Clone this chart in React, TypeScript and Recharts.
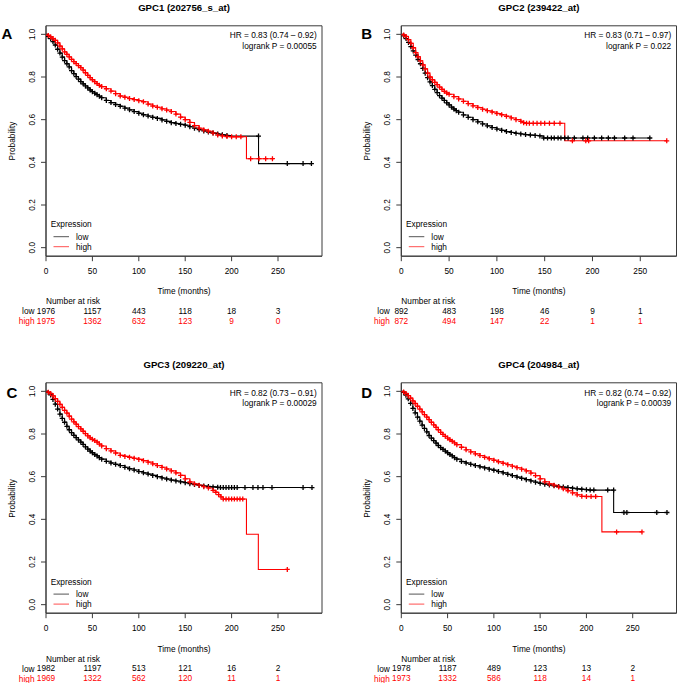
import React from 'react';
import { LineChart, Line, XAxis, YAxis, ReferenceArea } from 'recharts';

type Pt = [number, number, number?];

const timeTicks = [0, 50, 100, 150, 200, 250];
const probTicks = [0, 0.2, 0.4, 0.6, 0.8, 1.0];

// [time, survival, censorMark(default 1)]
const gpc1Low: Pt[] = [[0,1,0],[2.5,0.99],[5,0.98],[7.5,0.966],[10,0.95],[12.5,0.93],[15,0.912],[17.5,0.893],[20,0.877],[22.5,0.862],[25,0.847],[27.5,0.83],[30,0.816],[32.5,0.802],[35,0.79],[37.5,0.778],[40,0.768],[42.5,0.758],[45,0.749],[47.5,0.739],[50,0.731],[52.5,0.724],[55,0.717],[57.5,0.71],[60,0.703],[65,0.69],[70,0.68],[75,0.671],[80,0.663],[85,0.654],[90,0.646],[95,0.638],[100,0.63],[105,0.623],[110,0.617],[115,0.611],[120,0.606],[125,0.599],[130,0.592],[135,0.586],[140,0.582],[145,0.578],[150,0.574],[155,0.567],[160,0.56],[165,0.553],[170,0.547],[175,0.542],[180,0.537],[185,0.533],[190,0.529],[195,0.526],[200,0.523,0],[229,0.523],[229,0.394,0],[260,0.394],[277,0.394],[286,0.394]];
const gpc1High: Pt[] = [[0,1,0],[2.5,0.995],[5,0.988],[7.5,0.98],[10,0.972],[12.5,0.96],[15,0.945],[17.5,0.932],[20,0.918],[22.5,0.906],[25,0.894],[27.5,0.883],[30,0.872],[32.5,0.863],[35,0.853],[37.5,0.844],[40,0.832],[42.5,0.82],[45,0.808],[47.5,0.797],[50,0.787],[52.5,0.778],[55,0.769],[57.5,0.761],[60,0.755],[65,0.745],[70,0.734],[75,0.722],[80,0.711],[85,0.705],[90,0.699],[95,0.694],[100,0.689],[105,0.684],[110,0.673],[115,0.664],[120,0.658],[125,0.651],[130,0.645],[135,0.638],[140,0.626],[145,0.612],[150,0.6],[155,0.587],[160,0.572],[165,0.56],[170,0.552],[175,0.546],[180,0.537],[185,0.528],[190,0.524],[195,0.521],[200,0.52],[205,0.52],[210,0.52],[216,0.52,0],[216,0.417,0],[220.5,0.417],[229.5,0.417],[236.7,0.417],[244,0.417],[245.5,0.417,0]];

const gpc2Low: Pt[] = [[0,1,0],[2.5,0.993],[5,0.98],[7.5,0.962],[10,0.942],[12.5,0.922],[15,0.903],[17.5,0.882],[20,0.862],[22.5,0.84],[25,0.818],[27.5,0.797],[30,0.777],[32.5,0.76],[35,0.742],[37.5,0.727],[40,0.713],[42.5,0.701],[45,0.69],[47.5,0.679],[50,0.669],[52.5,0.659],[55,0.65],[57.5,0.642],[60,0.635],[65,0.622],[70,0.611],[75,0.6],[80,0.59],[85,0.58],[90,0.571],[95,0.563],[100,0.556],[105,0.55],[110,0.544],[115,0.54],[120,0.536],[125,0.533],[130,0.53],[135,0.528],[140,0.526],[145,0.524],[148,0.523,0],[149,0.514],[153,0.514],[157,0.514],[160,0.514],[164,0.514],[167,0.514],[171,0.514],[174.5,0.514],[181,0.514],[190,0.514],[195,0.514],[202,0.514],[209.6,0.514],[216.6,0.514],[223,0.514],[233.7,0.514],[242.4,0.514],[260,0.514]];
const gpc2High: Pt[] = [[0,1,0],[2.5,0.997],[5,0.99],[7.5,0.975],[10,0.958],[12.5,0.937],[15,0.914],[17.5,0.895],[20,0.876],[22.5,0.857],[25,0.838],[27.5,0.818],[30,0.8],[32.5,0.787],[35,0.775],[37.5,0.764],[40,0.753],[42.5,0.742],[45,0.733],[47.5,0.725],[50,0.719],[55,0.708],[60,0.697],[65,0.686],[70,0.675],[75,0.665],[80,0.657],[85,0.649],[90,0.642],[95,0.636],[100,0.629],[105,0.623],[110,0.616],[115,0.608],[120,0.6],[125,0.592],[128,0.586],[131,0.583],[134,0.583],[138,0.583],[142,0.583],[146,0.583],[150,0.583],[155,0.583],[160,0.583],[166,0.583],[171,0.583,0],[171,0.501,0],[179,0.501],[193,0.501],[196,0.501],[277.7,0.501]];

const gpc3Low: Pt[] = [[0,1,0],[2.5,0.995],[5,0.983],[7.5,0.962],[10,0.94],[12.5,0.917],[15,0.893],[17.5,0.873],[20,0.855],[22.5,0.836],[25,0.82],[27.5,0.806],[30,0.794],[32.5,0.783],[35,0.772],[37.5,0.762],[40,0.751],[42.5,0.74],[45,0.729],[47.5,0.72],[50,0.712],[52.5,0.704],[55,0.697],[57.5,0.689],[60,0.682],[65,0.672],[70,0.664],[75,0.658],[80,0.652],[85,0.644],[90,0.637],[95,0.631],[100,0.624],[105,0.618],[110,0.612],[115,0.606],[120,0.6],[125,0.594],[130,0.589],[135,0.584],[140,0.58],[145,0.576],[150,0.572],[155,0.567],[160,0.563],[165,0.559],[170,0.556],[175,0.554],[180,0.552],[185,0.55],[188,0.549],[191,0.549],[194,0.549],[197,0.549],[200,0.549],[203,0.549],[206,0.549],[214.4,0.549],[223,0.549],[228.4,0.549],[233.8,0.549],[243.5,0.549],[277,0.549],[286.6,0.549]];
const gpc3High: Pt[] = [[0,1,0],[2.5,0.996],[5,0.99],[7.5,0.979],[10,0.966],[12.5,0.953],[15,0.939],[17.5,0.925],[20,0.911],[22.5,0.898],[25,0.884],[27.5,0.87],[30,0.857],[32.5,0.846],[35,0.835],[37.5,0.824],[40,0.813],[42.5,0.802],[45,0.791],[47.5,0.782],[50,0.775],[52.5,0.769],[55,0.762],[57.5,0.753],[60,0.744],[65,0.731],[70,0.721],[75,0.711],[80,0.7],[85,0.695],[90,0.691],[95,0.686],[100,0.681],[105,0.675],[110,0.668],[115,0.66],[120,0.652],[125,0.644],[130,0.636],[135,0.627],[140,0.618],[145,0.606],[150,0.59],[155,0.575],[160,0.566],[165,0.56],[170,0.553],[175,0.547],[180,0.536],[183,0.527],[186,0.516],[188.5,0.505],[191,0.495],[194,0.495],[197,0.495],[200,0.495],[203,0.495],[206,0.495],[209,0.495],[212,0.495],[216,0.495,0],[216,0.33,0],[228.8,0.33,0],[228.8,0.165,0],[260,0.165]];

const gpc4Low: Pt[] = [[0,1,0],[2.5,0.995],[5,0.982],[7.5,0.965],[10,0.944],[12.5,0.92],[15,0.899],[17.5,0.879],[20,0.86],[22.5,0.842],[25,0.826],[27.5,0.81],[30,0.793],[32.5,0.781],[35,0.769],[37.5,0.757],[40,0.746],[42.5,0.736],[45,0.728],[47.5,0.72],[50,0.712],[52.5,0.704],[55,0.697],[57.5,0.689],[60,0.682],[65,0.671],[70,0.664],[75,0.658],[80,0.652],[85,0.646],[90,0.641],[95,0.635],[100,0.63],[105,0.624],[110,0.618],[115,0.611],[120,0.605],[125,0.598],[130,0.592],[135,0.586],[140,0.58],[145,0.574],[150,0.569],[155,0.565],[160,0.561],[165,0.557],[170,0.554],[175,0.551],[180,0.549],[185,0.546],[190,0.543],[195,0.541],[200,0.539],[204,0.537],[208,0.537],[223,0.537],[229.4,0.537],[229.4,0.432,0],[240.5,0.432],[243.7,0.432],[276,0.432],[287,0.432]];
const gpc4High: Pt[] = [[0,1,0],[2.5,0.997],[5,0.99],[7.5,0.98],[10,0.968],[12.5,0.955],[15,0.943],[17.5,0.93],[20,0.917],[22.5,0.904],[25,0.891],[27.5,0.879],[30,0.867],[32.5,0.855],[35,0.843],[37.5,0.831],[40,0.82],[42.5,0.808],[45,0.798],[47.5,0.789],[50,0.781],[52.5,0.773],[55,0.766],[57.5,0.758],[60,0.75],[65,0.738],[70,0.726],[75,0.716],[80,0.707],[85,0.699],[90,0.691],[95,0.684],[100,0.677],[105,0.67],[110,0.663],[115,0.656],[120,0.649],[125,0.642],[130,0.635],[135,0.627],[140,0.617],[145,0.605],[150,0.59],[155,0.576],[160,0.566],[165,0.56],[170,0.551],[175,0.543],[180,0.534],[185,0.524],[190,0.515],[195,0.508],[200,0.507],[205,0.507],[210,0.507],[216.7,0.507,0],[216.7,0.341,0],[232.6,0.341],[260,0.341]];

const gpc1RiskLow = [1976, 1157, 443, 118, 18, 3];
const gpc1RiskHigh = [1975, 1362, 632, 123, 9, 0];
const gpc2RiskLow = [892, 483, 198, 46, 9, 1];
const gpc2RiskHigh = [872, 494, 147, 22, 1, 1];
const gpc3RiskLow = [1982, 1197, 513, 121, 16, 2];
const gpc3RiskHigh = [1969, 1322, 562, 120, 11, 1];
const gpc4RiskLow = [1978, 1187, 489, 123, 13, 2];
const gpc4RiskHigh = [1973, 1332, 586, 118, 14, 1];

const titles = ['GPC1 (202756_s_at)', 'GPC2 (239422_at)', 'GPC3 (209220_at)', 'GPC4 (204984_at)'];
const hrTexts = ['HR = 0.83 (0.74 \u2013 0.92)', 'HR = 0.83 (0.71 \u2013 0.97)', 'HR = 0.82 (0.73 \u2013 0.91)', 'HR = 0.82 (0.74 \u2013 0.92)'];
const pTexts = ['logrank P = 0.00055', 'logrank P = 0.022', 'logrank P = 0.00029', 'logrank P = 0.00039'];
const letters = ['A', 'B', 'C', 'D'];

const FONT = '"Liberation Sans", Arial, Helvetica, sans-serif';
const RED = '#ff0000';
const AX = '#3a3a3a';
const PLOT_TOP = 25.8;
const PLOT_H = 230.4;
const CHART_H = 340;
const PLOT_BOTTOM = PLOT_TOP + PLOT_H;
const FS = 8.3;

const toRows = (pts: Pt[]) => pts.map(([t, s, c]) => ({ t, s, c: c === undefined ? 1 : c }));

interface Spec {
  left: number; top: number; width: number; plotLeft: number; plotW: number; xMax: number;
  letterX: number; letterY: number; idx: number;
  low: Pt[]; high: Pt[]; riskLow: number[]; riskHigh: number[];
}

const specs: Spec[] = [
  { left: 0, top: 0, width: 338, plotLeft: 46, plotW: 276, xMax: 297.4, letterX: 1.5, letterY: 39.3, idx: 0, low: gpc1Low, high: gpc1High, riskLow: gpc1RiskLow, riskHigh: gpc1RiskHigh },
  { left: 338, top: 0, width: 339, plotLeft: 63.3, plotW: 275.2, xMax: 287.9, letterX: 23.3, letterY: 39.3, idx: 1, low: gpc2Low, high: gpc2High, riskLow: gpc2RiskLow, riskHigh: gpc2RiskHigh },
  { left: 0, top: 357.4, width: 338, plotLeft: 46, plotW: 276, xMax: 297.4, letterX: 6.5, letterY: 40.8, idx: 2, low: gpc3Low, high: gpc3High, riskLow: gpc3RiskLow, riskHigh: gpc3RiskHigh },
  { left: 338, top: 357.4, width: 339, plotLeft: 63.3, plotW: 275.2, xMax: 297.3, letterX: 23.3, letterY: 40.8, idx: 3, low: gpc4Low, high: gpc4High, riskLow: gpc4RiskLow, riskHigh: gpc4RiskHigh },
];

const plusDot = (color: string) => (p: any) => {
  const { cx, cy, payload, index } = p;
  if (!payload || !payload.c || cx == null || cy == null) return <g key={`n${index}`} />;
  const a = 2.5;
  return (
    <path key={`p${index}`} d={`M${cx - a},${cy}H${cx + a}M${cx},${cy - a}V${cy + a}`} stroke={color} strokeWidth={1.3} fill="none" />
  );
};

function Panel({ spec }: { spec: Spec }) {
  const XTick = (props: any) => {
    const { x, payload } = props;
    const i = timeTicks.indexOf(payload.value);
    return (
      <g>
        <text x={x} y={PLOT_BOTTOM + 18.2} textAnchor="middle" fontSize={FS} fontFamily={FONT} fill="#000">{payload.value}</text>
        <text x={x} y={PLOT_BOTTOM + 58.2} textAnchor="middle" fontSize={FS} fontFamily={FONT} fill="#000">{spec.riskLow[i]}</text>
        <text x={x} y={PLOT_BOTTOM + 68.2} textAnchor="middle" fontSize={FS} fontFamily={FONT} fill={RED}>{spec.riskHigh[i]}</text>
      </g>
    );
  };
  const YTick = (props: any) => {
    const { y, payload } = props;
    return (
      <text transform={`translate(${spec.plotLeft - 11},${y}) rotate(-90)`} textAnchor="middle" fontSize={FS} fontFamily={FONT} fill="#000">
        {Number(payload.value).toFixed(1)}
      </text>
    );
  };
  return (
    <div style={{ position: 'absolute', left: spec.left, top: spec.top }}>
      <LineChart
        width={spec.width}
        height={CHART_H}
        margin={{ top: PLOT_TOP, right: spec.width - spec.plotLeft - spec.plotW, left: 0, bottom: 0 }}
      >
        <XAxis
          type="number"
          dataKey="t"
          domain={[0, spec.xMax]}
          ticks={timeTicks}
          interval={0}
          height={CHART_H - PLOT_TOP - PLOT_H}
          tick={XTick}
          tickSize={5}
          tickLine={{ stroke: AX }}
          axisLine={{ stroke: AX }}
          allowDataOverflow
        />
        <YAxis
          type="number"
          domain={[-0.04, 1.04]}
          ticks={probTicks}
          interval={0}
          width={spec.plotLeft}
          tick={YTick}
          tickSize={5}
          tickLine={{ stroke: AX }}
          axisLine={{ stroke: AX }}
          allowDataOverflow
        />
        <ReferenceArea x1={0} x2={spec.xMax} y1={-0.04} y2={1.04} fill="none" fillOpacity={0} stroke={AX} strokeWidth={1} ifOverflow="visible" />
        <Line data={toRows(spec.low)} dataKey="s" type="stepAfter" stroke="#000" strokeWidth={1.1} dot={plusDot('#000')} activeDot={false} isAnimationActive={false} />
        <Line data={toRows(spec.high)} dataKey="s" type="stepAfter" stroke={RED} strokeWidth={1.1} dot={plusDot(RED)} activeDot={false} isAnimationActive={false} />
      </LineChart>
    </div>
  );
}

function Overlay({ spec }: { spec: Spec }) {
  const cx = spec.plotLeft + spec.plotW / 2;
  const pl = spec.plotLeft;
  const t = { fontFamily: FONT, fontSize: FS, fill: '#000' } as any;
  return (
    <g transform={`translate(${spec.left},${spec.top})`}>
      <text x={cx} y={10.5} textAnchor="middle" fontFamily={FONT} fontSize={9.6} fontWeight="bold" fill="#000">{titles[spec.idx]}</text>
      <text x={spec.letterX} y={spec.letterY} fontFamily={FONT} fontSize={15} fontWeight="bold" fill="#000">{letters[spec.idx]}</text>
      <text x={pl + spec.plotW - 5.3} y={38.3} textAnchor="end" {...t}>{hrTexts[spec.idx]}</text>
      <text x={pl + spec.plotW - 5.3} y={48.6} textAnchor="end" {...t}>{pTexts[spec.idx]}</text>
      <text transform={`translate(${pl - 31.5},${PLOT_TOP + PLOT_H / 2}) rotate(-90)`} textAnchor="middle" {...t}>Probability</text>
      <text x={cx} y={PLOT_BOTTOM + 38.2} textAnchor="middle" {...t}>Time (months)</text>
      <text x={pl} y={PLOT_BOTTOM + 48.2} textAnchor="start" {...t}>Number at risk</text>
      <text x={pl - 11.5} y={PLOT_BOTTOM + 58.2} textAnchor="end" {...t}>low</text>
      <text x={pl - 11.5} y={PLOT_BOTTOM + 68.2} textAnchor="end" {...t} fill={RED}>high</text>
      <text x={pl + 4.7} y={PLOT_BOTTOM - 28.8} {...t}>Expression</text>
      <line x1={pl + 7.5} x2={pl + 23} y1={PLOT_BOTTOM - 19.5} y2={PLOT_BOTTOM - 19.5} stroke="#555" strokeWidth={1} />
      <text x={pl + 30} y={PLOT_BOTTOM - 16.7} {...t}>low</text>
      <line x1={pl + 7.5} x2={pl + 23} y1={PLOT_BOTTOM - 9.5} y2={PLOT_BOTTOM - 9.5} stroke="#ff5050" strokeWidth={1} />
      <text x={pl + 30} y={PLOT_BOTTOM - 6.7} {...t}>high</text>
    </g>
  );
}

export default function App() {
  return (
    <div style={{ position: 'absolute', left: 0, top: 0, width: 677, height: 683, overflow: 'hidden', background: '#fff' }}>
      {specs.map((s) => <Panel key={s.idx} spec={s} />)}
      <svg width={677} height={683} style={{ position: 'absolute', left: 0, top: 0, pointerEvents: 'none' }}>
        {specs.map((s) => <Overlay key={s.idx} spec={s} />)}
      </svg>
    </div>
  );
}
